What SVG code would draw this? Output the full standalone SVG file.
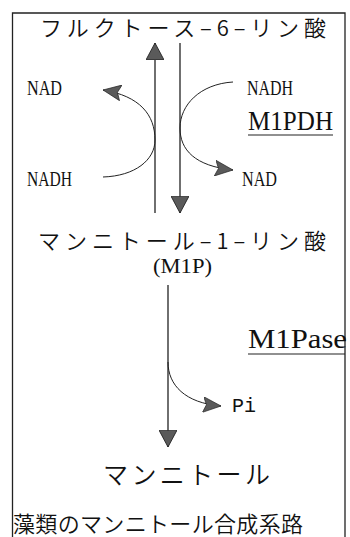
<svg xmlns="http://www.w3.org/2000/svg" width="350" height="537" viewBox="0 0 350 537">
<defs>
<style>
.jp{font-family:"Noto Sans CJK JP","Noto Sans CJK SC",sans-serif;font-weight:350;fill:#111}
.lat{font-family:"Liberation Serif","DejaVu Serif",serif;fill:#111}
.mono{font-family:"Liberation Mono","DejaVu Sans Mono",monospace;fill:#111}
.ln{fill:none;stroke:#222;stroke-width:1.3}
.cv{fill:none;stroke:#222;stroke-width:1}
</style>
<marker id="big" markerUnits="userSpaceOnUse" markerWidth="18" markerHeight="18" viewBox="0 0 16 16" refX="15" refY="8" orient="auto">
<path d="M0,0 L15,8 L0,16 Z" fill="#5a5a5a" stroke="#222" stroke-width="0.8"/>
</marker>
<marker id="small" markerUnits="userSpaceOnUse" markerWidth="18" markerHeight="16" viewBox="0 0 16 14" refX="16" refY="7" orient="auto">
<path d="M0,0 L16,7 L0,14 L3,7 Z" fill="#5a5a5a" stroke="#222" stroke-width="0.6"/>
</marker>
</defs>
<rect width="350" height="537" fill="#fff"/>
<path d="M12.5,537 V13 H345 V537" fill="none" stroke="#222" stroke-width="1.3"/>
<g id="connectors">
<line class="ln" x1="155" y1="213" x2="155" y2="43" marker-end="url(#big)"/>
<line class="ln" x1="180" y1="43" x2="180" y2="213" marker-end="url(#big)"/>
<path class="cv" d="M103,177 C135,176 155,160 155,140 C155,115 140,96 103,90" marker-end="url(#small)"/>
<path class="cv" d="M233,82 C200,84 180,105 180,128 C180,150 195,166 233,170" marker-end="url(#small)"/>
<line class="ln" x1="168" y1="285" x2="168" y2="447" marker-end="url(#big)"/>
<path class="cv" d="M168,362 C168,385 185,403 221,406" marker-end="url(#small)"/>
</g>
<g id="f6p"><text class="jp" x="40" y="36" font-size="22" textLength="286" lengthAdjust="spacing">フルクトース–6–リン酸</text></g>
<g id="nad1"><text class="lat" x="27" y="95" font-size="20" textLength="35" lengthAdjust="spacingAndGlyphs">NAD</text></g>
<g id="nadh1"><text class="lat" x="247" y="95" font-size="20" textLength="46" lengthAdjust="spacingAndGlyphs">NADH</text></g>
<g id="m1pdh"><text class="lat" x="248" y="130" font-size="28" textLength="85" lengthAdjust="spacingAndGlyphs">M1PDH</text>
<line x1="248" y1="135" x2="333" y2="135" stroke="#222" stroke-width="1.2"/></g>
<g id="nadh2"><text class="lat" x="27" y="186" font-size="20" textLength="45" lengthAdjust="spacingAndGlyphs">NADH</text></g>
<g id="nad2"><text class="lat" x="242" y="186" font-size="20" textLength="35" lengthAdjust="spacingAndGlyphs">NAD</text></g>
<g id="m1p"><text class="jp" x="38" y="249" font-size="22" textLength="288" lengthAdjust="spacing">マンニトール–1–リン酸</text>
<text class="lat" x="153" y="273" font-size="20" textLength="59" lengthAdjust="spacingAndGlyphs">(M1P)</text></g>
<g id="m1pase"><text class="lat" x="248" y="348" font-size="28" textLength="99" lengthAdjust="spacingAndGlyphs">M1Pase</text>
<line x1="248" y1="354" x2="345" y2="354" stroke="#222" stroke-width="1.2"/></g>
<g id="pi"><text class="mono" x="232" y="412" font-size="20">Pi</text></g>
<g id="mannitol"><text class="jp" x="103" y="484" font-size="25" textLength="167" lengthAdjust="spacing">マンニトール</text></g>
<g id="caption"><text class="jp" x="13" y="532" font-size="22" textLength="290" lengthAdjust="spacing">藻類のマンニトール合成系路</text></g>
</svg>
